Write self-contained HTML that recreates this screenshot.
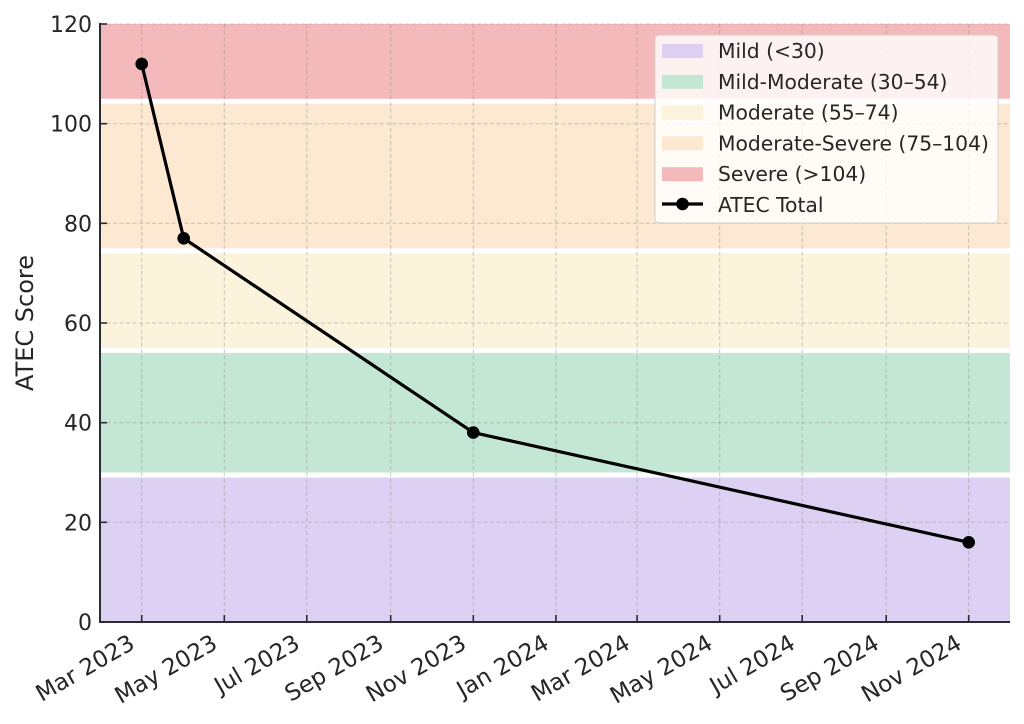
<!DOCTYPE html>
<html>
<head>
<meta charset="utf-8">
<style>
  html, body { margin: 0; padding: 0; background: #ffffff; }
  svg { display: block; }
  text { font-family: "DejaVu Sans", "Liberation Sans", sans-serif; fill: #262626; }
</style>
</head>
<body>
<svg width="1024" height="724" viewBox="0 0 1024 724" xmlns="http://www.w3.org/2000/svg">
  <rect x="0" y="0" width="1024" height="724" fill="#ffffff"/>

  <!-- Bands -->
  <rect x="100" y="24" width="910" height="74.75" fill="#f4b9bb"/>
  <rect x="100" y="103.73" width="910" height="144.52" fill="#fde8d2"/>
  <rect x="100" y="253.23" width="910" height="94.67" fill="#fbf3dc"/>
  <rect x="100" y="352.9" width="910" height="119.6" fill="#c4e6d4"/>
  <rect x="100" y="477.5" width="910" height="144.5" fill="#ddd1f3"/>

  <!-- Grid -->
  <g stroke="#8a8a8a" stroke-opacity="0.45" stroke-width="1" stroke-dasharray="4,2.5" fill="none">
    <line x1="100" y1="522.3" x2="1010" y2="522.3"/>
    <line x1="100" y1="422.7" x2="1010" y2="422.7"/>
    <line x1="100" y1="323" x2="1010" y2="323"/>
    <line x1="100" y1="223.3" x2="1010" y2="223.3"/>
    <line x1="100" y1="123.7" x2="1010" y2="123.7"/>
    <line x1="100" y1="24" x2="1010" y2="24"/>
    <line x1="141.7" y1="24" x2="141.7" y2="622"/>
    <line x1="224.3" y1="24" x2="224.3" y2="622"/>
    <line x1="306.8" y1="24" x2="306.8" y2="622"/>
    <line x1="390.7" y1="24" x2="390.7" y2="622"/>
    <line x1="473.3" y1="24" x2="473.3" y2="622"/>
    <line x1="555.9" y1="24" x2="555.9" y2="622"/>
    <line x1="637.1" y1="24" x2="637.1" y2="622"/>
    <line x1="719.7" y1="24" x2="719.7" y2="622"/>
    <line x1="802.2" y1="24" x2="802.2" y2="622"/>
    <line x1="886.2" y1="24" x2="886.2" y2="622"/>
    <line x1="968.7" y1="24" x2="968.7" y2="622"/>
  </g>

  <!-- Data line -->
  <polyline points="141.7,63.9 183.7,238.3 473.3,432.6 968.7,542.3" fill="none" stroke="#000000" stroke-width="3.2" stroke-linejoin="round" stroke-linecap="round"/>
  <g fill="#000000">
    <circle cx="141.7" cy="63.9" r="6.3"/>
    <circle cx="183.7" cy="238.3" r="6.3"/>
    <circle cx="473.3" cy="432.6" r="6.3"/>
    <circle cx="968.7" cy="542.3" r="6.3"/>
  </g>

  <!-- Spines -->
  <g stroke="#2b2b33" stroke-width="2" fill="none">
    <line x1="100" y1="23" x2="100" y2="623"/>
    <line x1="99" y1="622" x2="1010" y2="622"/>
  </g>

  <!-- Ticks (inward) -->
  <g stroke="#2b2b33" stroke-width="1.6">
    <line x1="100" y1="622" x2="107" y2="622"/>
    <line x1="100" y1="522.3" x2="107" y2="522.3"/>
    <line x1="100" y1="422.7" x2="107" y2="422.7"/>
    <line x1="100" y1="323" x2="107" y2="323"/>
    <line x1="100" y1="223.3" x2="107" y2="223.3"/>
    <line x1="100" y1="123.7" x2="107" y2="123.7"/>
    <line x1="100" y1="24" x2="107" y2="24"/>
    <line x1="141.7" y1="622" x2="141.7" y2="615"/>
    <line x1="224.3" y1="622" x2="224.3" y2="615"/>
    <line x1="306.8" y1="622" x2="306.8" y2="615"/>
    <line x1="390.7" y1="622" x2="390.7" y2="615"/>
    <line x1="473.3" y1="622" x2="473.3" y2="615"/>
    <line x1="555.9" y1="622" x2="555.9" y2="615"/>
    <line x1="637.1" y1="622" x2="637.1" y2="615"/>
    <line x1="719.7" y1="622" x2="719.7" y2="615"/>
    <line x1="802.2" y1="622" x2="802.2" y2="615"/>
    <line x1="886.2" y1="622" x2="886.2" y2="615"/>
    <line x1="968.7" y1="622" x2="968.7" y2="615"/>
  </g>

  <!-- Y tick labels -->
  <g font-size="22" text-anchor="end">
    <text x="92" y="630">0</text>
    <text x="92" y="530.3">20</text>
    <text x="92" y="430.7">40</text>
    <text x="92" y="331">60</text>
    <text x="92" y="231.3">80</text>
    <text x="92" y="131.7">100</text>
    <text x="92" y="32">120</text>
  </g>

  <!-- Y axis label -->
  <text x="33" y="323" font-size="24" text-anchor="middle" transform="rotate(-90 33 323)">ATEC Score</text>

  <!-- X tick labels -->
  <g font-size="23" text-anchor="end">
    <text x="136.2" y="647.5" transform="rotate(-30 136.2 647.5)">Mar 2023</text>
    <text x="218.8" y="647.5" transform="rotate(-30 218.8 647.5)">May 2023</text>
    <text x="301.3" y="647.5" transform="rotate(-30 301.3 647.5)">Jul 2023</text>
    <text x="385.2" y="647.5" transform="rotate(-30 385.2 647.5)">Sep 2023</text>
    <text x="467.8" y="647.5" transform="rotate(-30 467.8 647.5)">Nov 2023</text>
    <text x="550.4" y="647.5" transform="rotate(-30 550.4 647.5)">Jan 2024</text>
    <text x="631.6" y="647.5" transform="rotate(-30 631.6 647.5)">Mar 2024</text>
    <text x="714.2" y="647.5" transform="rotate(-30 714.2 647.5)">May 2024</text>
    <text x="796.7" y="647.5" transform="rotate(-30 796.7 647.5)">Jul 2024</text>
    <text x="880.7" y="647.5" transform="rotate(-30 880.7 647.5)">Sep 2024</text>
    <text x="963.2" y="647.5" transform="rotate(-30 963.2 647.5)">Nov 2024</text>
  </g>

  <!-- Legend -->
  <rect x="655" y="35" width="343" height="188" rx="4" ry="4" fill="#ffffff" fill-opacity="0.8" stroke="#cfcfcf" stroke-width="1"/>
  <rect x="662" y="44" width="41" height="14" fill="#ddd1f3"/>
  <rect x="662" y="74.8" width="41" height="14" fill="#c4e6d4"/>
  <rect x="662" y="105.6" width="41" height="14" fill="#fbf3dc"/>
  <rect x="662" y="136.4" width="41" height="14" fill="#fde8d2"/>
  <rect x="662" y="167.2" width="41" height="14" fill="#f4b9bb"/>
  <line x1="662" y1="204" x2="703" y2="204" stroke="#000000" stroke-width="3.2"/>
  <circle cx="682.5" cy="204" r="6.3" fill="#000000"/>
  <g font-size="20.3">
    <text x="718" y="58">Mild (&lt;30)</text>
    <text x="718" y="88.8">Mild-Moderate (30–54)</text>
    <text x="718" y="119.6">Moderate (55–74)</text>
    <text x="718" y="150.4">Moderate-Severe (75–104)</text>
    <text x="718" y="181.2">Severe (&gt;104)</text>
    <text x="718" y="212">ATEC Total</text>
  </g>
</svg>
</body>
</html>
